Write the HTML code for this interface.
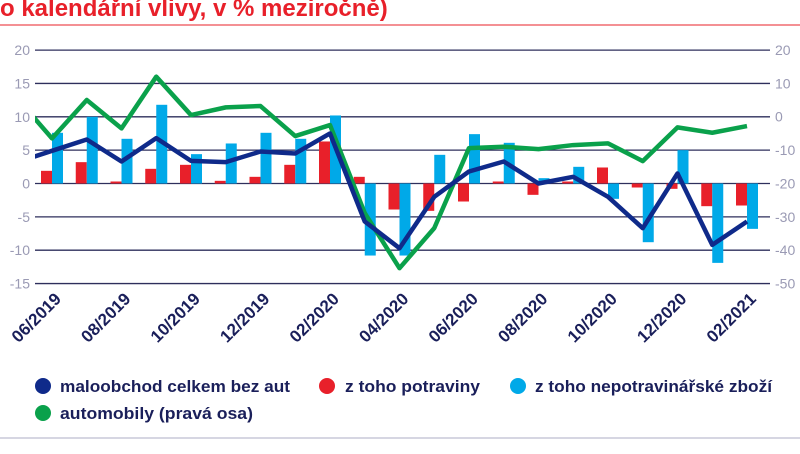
<!DOCTYPE html>
<html><head><meta charset="utf-8"><style>
body{margin:0;width:800px;height:449px;overflow:hidden;background:#fff;font-family:"Liberation Sans",sans-serif}
</style></head><body>
<svg width="800" height="449" xmlns="http://www.w3.org/2000/svg" id="svg">
<text x="0" y="16" fill="#e8202a" font-size="24" font-weight="bold" font-family="Liberation Sans, sans-serif">o kalendářní vlivy, v % meziročně)</text>
<line x1="0" y1="25" x2="800" y2="25" stroke="#e8202a" stroke-width="1"/>
<defs><clipPath id="pc"><rect x="35" y="40" width="735" height="260"/></clipPath></defs>
<g id="grid"></g><g id="bars" clip-path="url(#pc)"></g><g id="lines" clip-path="url(#pc)"></g><g id="xl"></g>
<g font-size="17" font-weight="bold" fill="#1a1f5a" font-family="Liberation Sans, sans-serif">
<g><circle cx="43" cy="386" r="8" fill="#0f2a8a"/><text x="60" y="392" textLength="230" lengthAdjust="spacingAndGlyphs">maloobchod celkem bez aut</text></g>
<g><circle cx="327" cy="386" r="8" fill="#e8202a"/><text x="345" y="392" textLength="135" lengthAdjust="spacingAndGlyphs">z toho potraviny</text></g>
<g><circle cx="518" cy="386" r="8" fill="#00a9e8"/><text x="535" y="392" textLength="237" lengthAdjust="spacingAndGlyphs">z toho nepotravinářské zboží</text></g>
<g><circle cx="43" cy="413" r="8" fill="#0aa14b"/><text x="60" y="419" textLength="193" lengthAdjust="spacingAndGlyphs">automobily (pravá osa)</text></g>
</g>
<line x1="0" y1="438" x2="800" y2="438" stroke="#c8c8d8" stroke-width="1.5"/>
</svg>
<script>
const categories=["06/2019","07/2019","08/2019","09/2019","10/2019","11/2019","12/2019","01/2020","02/2020","03/2020","04/2020","05/2020","06/2020","07/2020","08/2020","09/2020","10/2020","11/2020","12/2020","01/2021","02/2021"];
const food=[1.9,3.2,0.3,2.2,2.8,0.4,1.0,2.8,6.3,1.0,-3.9,-4.1,-2.7,0.3,-1.7,0.3,2.4,-0.6,-0.8,-3.4,-3.3];
const nonfood=[7.6,10,6.7,11.8,4.4,6.0,7.6,6.7,10.2,-10.8,-10.8,4.3,7.4,6.1,0.8,2.5,-2.3,-8.8,5.0,-11.9,-6.8];
const retailPrev=3.2;
const retail=[4.9,6.6,3.3,6.8,3.4,3.2,4.8,4.5,7.5,-5.7,-9.7,-2.0,1.8,3.3,0,1.0,-2.0,-6.7,1.5,-9.2,-5.7];
const carsPrev=5.5;
const cars=[-6.5,5.0,-3.5,12.0,0.5,2.8,3.2,-5.8,-2.5,-28.9,-45.4,-33.4,-9.4,-9.0,-9.7,-8.5,-8.0,-13.3,-3.2,-4.8,-2.8];
const leftTicks=[20,15,10,5,0,-5,-10,-15];
const rightTicks=[20,10,0,-10,-20,-30,-40,-50];
const NS="http://www.w3.org/2000/svg";
const yL=v=>183.5-v*6.67, yR=v=>50+(20-v)*3.336, xC=i=>52+i*34.75;
function mk(t,a,p){const e=document.createElementNS(NS,t);for(const k in a)e.setAttribute(k,a[k]);p.appendChild(e);return e;}
const G=document.getElementById('grid'),B=document.getElementById('bars'),L=document.getElementById('lines'),X=document.getElementById('xl');
leftTicks.forEach(v=>{const y=yL(v);
 const l=mk('line',{x1:35,x2:770,y1:y,y2:y,stroke:'#2e2f5c','stroke-width':1.3},G);
 
 
 const t=mk('text',{x:30,y:y+5,'text-anchor':'end','font-size':14,fill:'#9a9ab4'},G);t.textContent=v;
 
 });
rightTicks.forEach(v=>{const y=yR(v);
 const t=mk('text',{x:775,y:y+5,'font-size':14,fill:'#9a9ab4'},G);t.textContent=v;
 
 });
categories.forEach((c,i)=>{const cx=xC(i);
 [[food[i],'#e8202a',-11],[nonfood[i],'#00a9e8',0]].forEach(([v,col,off])=>{
  const y0=yL(0),y1=yL(v);
  const r=mk('rect',{x:cx+off,y:Math.min(y0,y1),width:11,height:Math.abs(y1-y0),fill:col},B);
  
  });
 if(i%2===0){const t=mk('text',{x:0,y:0,'text-anchor':'end','font-size':17,'font-weight':'bold',fill:'#1a1f5a',transform:`translate(${cx+10},${300}) rotate(-45)`},X);t.textContent=c;
  
  }
});
function line(prev,arr,fy,col,name){const pts=[[xC(-1),fy(prev)]].concat(arr.map((v,i)=>[xC(i),fy(v)]));
 const p=mk('polyline',{points:pts.map(p=>p.join(',')).join(' '),fill:'none',stroke:col,'stroke-width':4.5,'stroke-linejoin':'round'},L);
 
 }
line(carsPrev,cars,yR,'#0aa14b','line-cars');
line(retailPrev,retail,yL,'#0f2a8a','line-retail');
</script>
</body></html>
